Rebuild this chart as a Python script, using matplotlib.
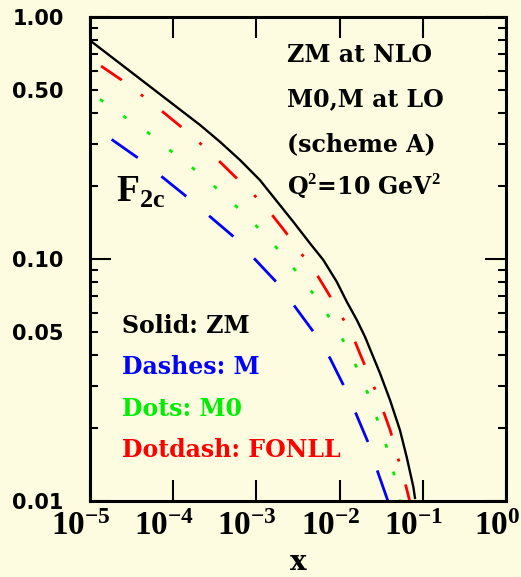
import matplotlib
matplotlib.use("Agg")
import matplotlib.pyplot as plt
from matplotlib import ticker, transforms

# F2c curves (x, F2c)
zm_x = [1e-5, 2.1e-4, 3.65e-4, 6.35e-4, 1.1e-3, 2.77e-3, 4.41e-3, 6.37e-3, 9.23e-3,
        1.22e-2, 1.61e-2, 2.02e-2, 3.06e-2, 4.04e-2, 5.32e-2, 6.4e-2, 7.69e-2, 8.05e-2]
zm_y = [0.80, 0.358, 0.305, 0.2565, 0.212, 0.1426, 0.116, 0.0991, 0.0806,
        0.0666, 0.056, 0.0477, 0.0337, 0.0261, 0.0196, 0.0152, 0.01146, 0.0103]

m_x = [1.82e-5, 3.81e-5, 7.28e-5, 1.45e-4, 2.69e-4, 5.27e-4, 9.35e-4, 1.72e-3, 2.86e-3,
       4.83e-3, 7.67e-3, 1.107e-2, 1.57e-2, 2.21e-2, 2.87e-2, 3.85e-2]
m_y = [0.312, 0.261, 0.219, 0.181, 0.151, 0.124, 0.1007, 0.0806, 0.064,
       0.0501, 0.0389, 0.0302, 0.0230, 0.0174, 0.0132, 0.0099]

m0_x = [1.32e-5, 2.51e-5, 4.67e-5, 8.36e-5, 1.52e-4, 2.69e-4, 4.69e-4, 8.0e-4, 1.35e-3, 2.21e-3,
        3.5e-3, 5.55e-3, 8.26e-3, 1.22e-2, 1.68e-2, 2.25e-2, 2.87e-2, 3.68e-2, 4.51e-2, 5.32e-2]
m0_y = [0.457, 0.390, 0.339, 0.288, 0.246, 0.209, 0.176, 0.148, 0.123, 0.1016,
        0.0832, 0.0673, 0.0546, 0.0434, 0.0345, 0.0272, 0.0215, 0.0167, 0.0129, 0.0101]

fonll_x = [1.36e-5, 2.4e-5, 4.26e-5, 7.28e-5, 1.24e-4, 2.1e-4, 3.48e-4, 5.53e-4, 9.1e-4, 1.456e-3,
           2.21e-3, 3.34e-3, 5.16e-3, 7.31e-3, 1.03e-2, 1.45e-2, 1.85e-2, 2.47e-2, 3.21e-2,
           4.04e-2, 4.85e-2, 5.94e-2, 7.01e-2]
fonll_y = [0.627, 0.549, 0.473, 0.409, 0.352, 0.301, 0.256, 0.219, 0.186, 0.156,
           0.130, 0.107, 0.0878, 0.0721, 0.0590, 0.0477, 0.0389, 0.0309, 0.0245,
           0.0197, 0.0157, 0.0124, 0.0099]

xticks = [1e-5, 1e-4, 1e-3, 1e-2, 1e-1, 1e0]
xlabels = ['$\\mathbf{10^{-5}}$', '$\\mathbf{10^{-4}}$', '$\\mathbf{10^{-3}}$',
           '$\\mathbf{10^{-2}}$', '$\\mathbf{10^{-1}}$', '$\\mathbf{10^{0}}$']
ylabels = {1.0: '1.00', 0.5: '0.50', 0.1: '0.10', 0.05: '0.05', 0.01: '0.01'}

info_lines = ['ZM at NLO', 'M0,M at LO', '(scheme A)', 'Q$^{\\mathbf{2}}$=10 GeV$^{\\mathbf{2}}$']
key_lines = [('Solid: ZM', 'black'), ('Dashes: M', '#0000ff'),
             ('Dots: M0', '#00ee00'), ('Dotdash: FONLL', '#ff0000')]

bg = '#fefce0'
plt.rcParams['font.family'] = ['DejaVu Sans']
plt.rcParams['font.weight'] = 'bold'
plt.rcParams['mathtext.fontset'] = 'custom'
plt.rcParams['mathtext.rm'] = 'Liberation Serif'
plt.rcParams['mathtext.bf'] = 'Liberation Serif:bold'

fig = plt.figure(figsize=(5.21, 5.77), dpi=100, facecolor=bg)
ax = fig.add_axes([90/521, 1-501/577, 416/521, 484/577], facecolor=bg)

ax.plot(zm_x, zm_y, color='black', lw=1.7)
ax.plot(m_x, m_y, color='#0000ff', lw=2.0, ls=(0, (11.5, 10.8)))
ax.plot(m0_x, m0_y, color='#00ee00', lw=2.0, ls=(0, (1.4, 8.9)))
ax.plot(fonll_x, fonll_y, color='#ff0000', lw=2.0, ls=(0, (9.0, 8.6, 1.1, 8.6)))

ax.set_xscale('log')
ax.set_yscale('log')
ax.set_xlim(1e-5, 1)
ax.set_ylim(0.01, 1)

ax.xaxis.set_major_locator(ticker.FixedLocator(xticks))
ax.xaxis.set_major_formatter(ticker.FixedFormatter(xlabels))
ax.xaxis.set_minor_locator(ticker.LogLocator(base=10, subs=range(2, 10)))
ax.xaxis.set_minor_formatter(ticker.NullFormatter())

ax.yaxis.set_major_locator(ticker.FixedLocator([0.01, 0.1, 1.0]))
ax.yaxis.set_minor_locator(ticker.LogLocator(base=10, subs=range(2, 10)))
fmt = ticker.FuncFormatter(lambda v, p: next((s for k, s in ylabels.items() if abs(v/k - 1) < 1e-6), ''))
ax.yaxis.set_major_formatter(fmt)
ax.yaxis.set_minor_formatter(fmt)

for s in ax.spines.values():
    s.set_linewidth(2.2)
ax.tick_params(which='both', direction='in', top=True, right=True, width=1.5)
ax.tick_params(which='major', length=15)
ax.tick_params(which='minor', length=6)
ax.tick_params(axis='y', which='both', pad=19, labelsize=15)
ax.tick_params(axis='x', which='major', pad=6, labelsize=24)

shift = transforms.ScaledTranslation(-9/100, 0, fig.dpi_scale_trans)
for lab in ax.xaxis.get_majorticklabels():
    lab.set_transform(lab.get_transform() + shift)

ax.set_xlabel('x', family='DejaVu Serif', fontsize=20, fontweight='bold', labelpad=5)

# annotations
for i, t in enumerate(info_lines):
    fig.text(287/521, 1 - (62 + 44.5*i)/577, t, family='DejaVu Serif', fontsize=17,
             fontweight='bold', ha='left', va='baseline')
for i, (t, c) in enumerate(key_lines):
    fig.text(122/521, 1 - (333 + 41.3*i)/577, t, family='DejaVu Serif', fontsize=17,
             fontweight='bold', color=c, ha='left', va='baseline')
fig.text(116/521, 1 - 202/577, '$\\mathrm{F}_{\\mathbf{2c}}$', fontsize=27, ha='left', va='baseline')

fig.savefig('out.png', dpi=100, facecolor=bg)
